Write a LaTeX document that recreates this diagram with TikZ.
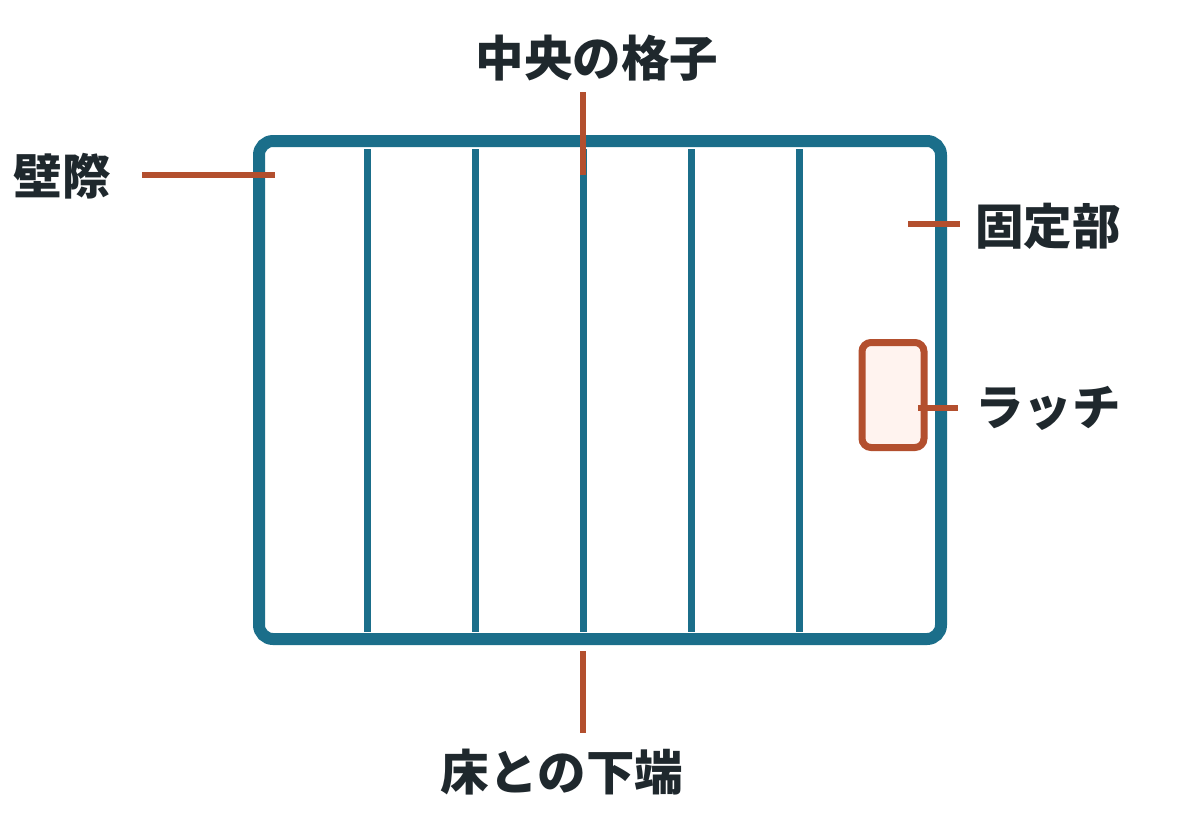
\documentclass[tikz,border=0pt]{standalone}
\usepackage{fontspec}
\newfontfamily\cjk{Noto Sans CJK JP}
\definecolor{frame}{HTML}{1B6E8A}
\definecolor{lead}{HTML}{B34F2E}
\definecolor{latchfill}{HTML}{FFF3EF}
\definecolor{txt}{HTML}{1F282D}
\begin{document}
\begin{tikzpicture}[x=1pt,y=-1pt,
  lbl/.style={font=\cjk\bfseries\fontsize{48.5}{50}\selectfont,text=txt,inner sep=0pt},
  leader/.style={draw=lead,line width=6pt},
  bar/.style={draw=frame,line width=7pt}]
\useasboundingbox (0,0) rectangle (1200,833);
\draw[frame,line width=12pt,rounded corners=14pt] (259,141) rectangle (941,639);
\foreach \x/\n in {367/a,475/b,583/c,691/d,799/e}{
  \coordinate (t\n) at (\x,149); \coordinate (b\n) at (\x,632);
  \draw[bar] (t\n) -- (b\n);}
\node[draw=lead,fill=latchfill,line width=7pt,rounded corners=9pt,minimum width=62pt,minimum height=105pt] (latch) at (893,395) {};
\node[lbl] (l1) at (62,176) {壁際};
\node[lbl] (l2) at (597,58) {中央の格子};
\node[lbl,anchor=west] (l3) at (975,226) {固定部};
\node[lbl,anchor=west] (l4) at (975,408) {ラッチ};
\node[lbl] (l5) at (562,772) {床との下端};
\coordinate (a1) at (142,175); \coordinate (a2) at (275,175);
\draw[leader] (a1) -- (a2);
\coordinate (b1) at (583,92); \coordinate (b2) at (583,175);
\draw[leader] (b1) -- (b2);
\coordinate (c1) at (908,224); \coordinate (c2) at (960,224);
\draw[leader] (c1) -- (c2);
\coordinate (d1) at (918,408); \coordinate (d2) at (958,408);
\draw[leader] (d1) -- (d2);
\coordinate (e1) at (583,651); \coordinate (e2) at (583,733);
\draw[leader] (e1) -- (e2);
\end{tikzpicture}
\end{document}
